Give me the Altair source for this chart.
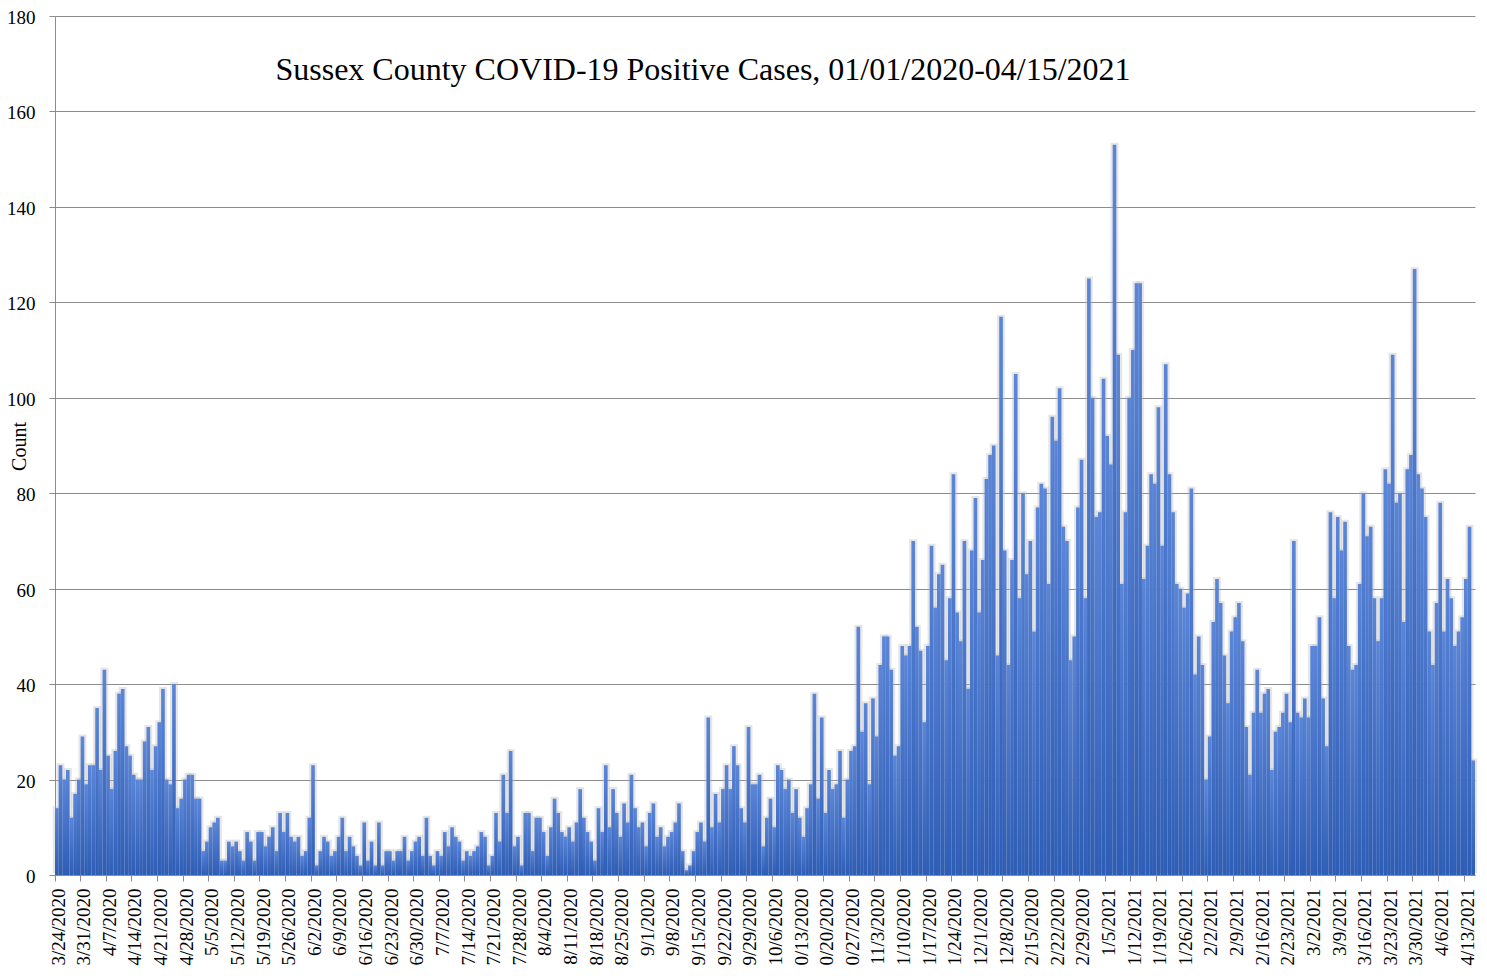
import altair as alt
import pandas as pd

start_date = "2020-03-24"

counts_a = [14, 23, 20, 22, 12, 17, 20, 29, 19, 23, 23, 35, 22, 43, 25, 18, 26, 38, 39, 27,
            25, 21, 20, 20, 28, 31, 22, 27, 32, 39, 20, 19, 40, 14, 16, 20, 21, 21, 16, 16]
counts_b = [5, 7, 10, 11, 12, 3, 3, 7, 6, 7, 5, 3, 9, 7, 3, 9, 9, 6, 8, 10,
            5, 13, 9, 13, 8, 7, 8, 4, 5, 12, 23, 2, 5, 8, 7, 4, 5, 8, 12]
counts_c = [5, 8, 6, 4, 2, 11, 3, 7, 2, 11, 2, 5, 5, 3, 5, 5, 8, 3, 5, 7,
            8, 4, 12, 4, 2, 5, 4, 9, 6, 10, 8, 7, 3, 5, 4, 5, 6, 9, 8, 2]
counts_d = [4, 13, 7, 21, 13, 26, 6, 8, 2, 13, 13, 5, 12, 12, 9, 4, 10, 16, 13, 9,
            8, 10, 7, 11, 18, 12, 9, 7, 3, 14, 9, 23, 10, 18, 13, 8, 15, 11, 21, 14]
counts_e = [10, 11, 6, 13, 15, 8, 10, 6, 8, 9, 11, 15, 5, 1, 2, 5, 9, 11, 7, 33,
            10, 17, 11, 18, 23, 18, 27, 23, 14, 11, 31, 19, 19, 21, 6, 12, 16, 10, 23, 22]
counts_f = [18, 20, 13, 18, 12, 8, 14, 19, 38, 16, 33, 13, 22, 18, 19, 26, 12, 20, 26, 27,
            52, 30, 36, 19, 37, 29, 44, 50, 50, 43, 25, 27, 48, 46, 48, 70, 52, 47, 32, 48]
counts_g = [69, 56, 63, 65, 45, 58, 84, 55, 49, 70, 39, 68, 79, 55, 66, 83, 88, 90, 46, 117,
            68, 44, 66, 105, 58, 80, 63, 70, 51, 77, 82, 81, 61, 96, 91, 102, 73, 70, 45]
counts_h = [50, 77, 87, 58, 125, 100, 75, 76, 104, 92, 86, 153, 109, 61, 76, 100, 110, 124, 124, 62,
            69, 84, 82, 98, 69, 107, 84, 76, 61, 60, 56, 59, 81, 42, 50, 44, 20, 29, 53]
counts_i = [62, 57, 46, 36, 51, 54, 57, 49, 31, 21, 34, 43, 34, 38, 39, 22, 30, 31, 34, 38,
            32, 70, 34, 33, 37, 33, 48, 48, 54, 37, 27, 76, 58, 75, 68, 74, 48, 43, 44, 61]
counts_j = [80, 71, 73, 58, 49, 58, 85, 82, 109, 78, 80, 53, 85, 88, 127, 84, 81, 75, 51, 44,
            57, 78, 51, 62, 58, 48, 51, 54, 62, 73, 24]

counts = (counts_a + counts_b + counts_c + counts_d + counts_e + counts_f
          + counts_g + counts_h + counts_i + counts_j)

dates = pd.date_range(start_date, periods=len(counts), freq="D")
date_labels = [f"{d.month}/{d.day}/{d.year}" for d in dates]
tick_labels = date_labels[::7]
y_ticks = [0, 20, 40, 60, 80, 100, 120, 140, 160, 180]
title_text = "Sussex County COVID-19 Positive Cases, 01/01/2020-04/15/2021"

df = pd.DataFrame({"date": date_labels, "count": counts})

FONT = "Liberation Serif"

x_enc = alt.X(
    "date:N",
    sort=None,
    scale=alt.Scale(paddingInner=0, paddingOuter=0),
    axis=alt.Axis(
        values=tick_labels,
        labelAngle=270,
        labelExpr="length(datum.label) > 9 ? substring(datum.label, 1) : datum.label",
        bandPosition=0,
        labelOffset=1.8,
        tickSize=6,
        labelPadding=7,
        labelFont=FONT,
        labelFontSize=19,
        labelColor="black",
        domainColor="#8c8c8c",
        tickColor="#8c8c8c",
        labelOverlap=False,
        grid=False,
        title=None,
    ),
)
y_enc = alt.Y(
    "count:Q",
    scale=alt.Scale(domain=[0, 180], nice=False),
    axis=alt.Axis(
        values=y_ticks,
        title="Count",
        titleFont=FONT,
        titleFontSize=20,
        titleFontWeight="normal",
        titleColor="black",
        titleX=-26,
        titleY=430,
        labelFont=FONT,
        labelFontSize=19,
        labelColor="black",
        labelPadding=14,
        labelOffset=1.5,
        tickSize=6,
        tickColor="#8c8c8c",
        domainColor="#8c8c8c",
        gridColor="#8c8c8c",
        gridWidth=1,
    ),
)

shadow = alt.Chart(df).mark_bar(
    color="#b8b8b8", opacity=0.35, yOffset=-2, width=alt.RelativeBandSize(2.2)
).encode(x=x_enc, y=y_enc)

gradient = alt.Gradient(
    gradient="linear",
    stops=[
        alt.GradientStop(color="#5b86d8", offset=0),
        alt.GradientStop(color="#2e5db5", offset=1),
    ],
    x1=0, x2=0, y1=0, y2=1,
)

bars = alt.Chart(df).mark_bar(color=gradient).encode(x=x_enc, y=y_enc)

title = alt.Chart(pd.DataFrame({"t": [title_text]})).mark_text(
    font=FONT, fontSize=32, color="black", align="center", baseline="middle"
).encode(x=alt.value(648), y=alt.value(54), text="t:N")

chart = (
    alt.layer(shadow, bars, title)
    .properties(
        width=1420,
        height=859,
        autosize=alt.AutoSizeParams(type="none"),
        padding={"left": 47, "top": 8, "right": 4, "bottom": 93},
        background="white",
    )
    .configure_view(stroke=None)
)

chart.save("out.html", embed_options={"renderer": "svg", "actions": False})
